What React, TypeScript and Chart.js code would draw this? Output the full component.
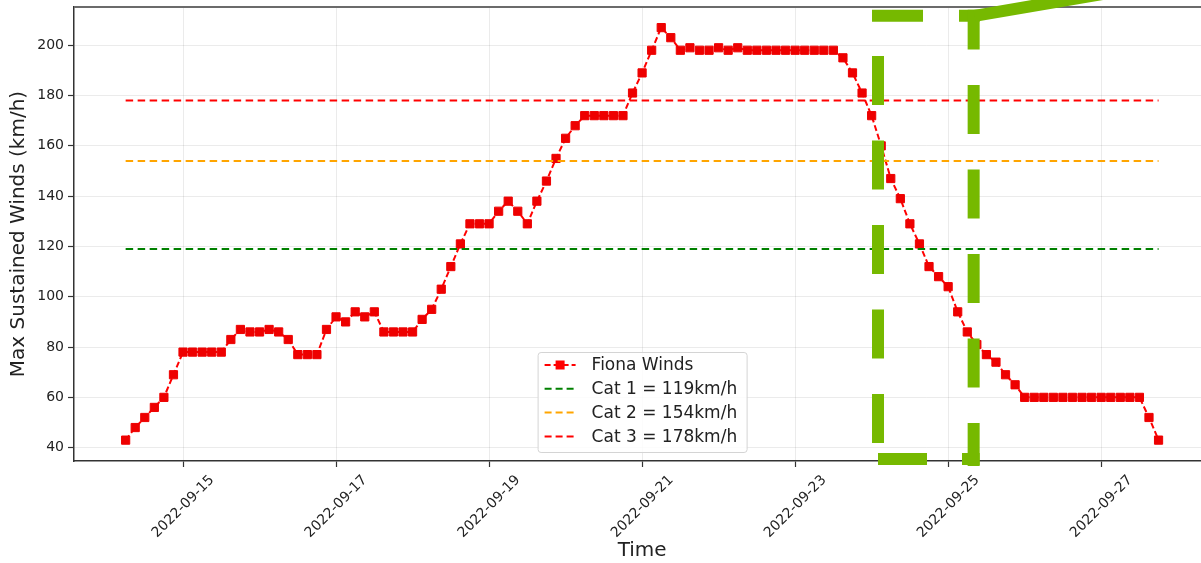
import React, { useEffect, useRef } from "react";
import { Chart, registerables } from "chart.js";

Chart.register(...registerables);

// Hours elapsed since 2022-09-14 00:00 for each advisory
const hoursSinceSep14: number[] = [
  6, 9, 12, 15, 18, 21, 24, 27, 30, 33, 36, 39, 42, 45, 48, 51, 54, 57, 60, 63,
  66, 69, 72, 75, 78, 81, 84, 87, 90, 93, 96, 99, 102, 105, 108, 111, 114, 117, 120, 123,
  126, 129, 132, 135, 138, 141, 144, 147, 150, 153, 156, 159, 162, 165, 168, 171, 174, 177, 180, 183,
  186, 189, 192, 195, 198, 201, 204, 207, 210, 213, 216, 219, 222, 225, 228, 231, 234, 237, 240, 243,
  246, 249, 252, 255, 258, 261, 264, 267, 270, 273, 276, 279, 282, 285, 288, 291, 294, 297, 300, 303,
  306, 309, 312, 315, 318, 321, 324, 327, 330,
];

// Max sustained winds (km/h)
const fionaWinds: number[] = [
  43, 48, 52, 56, 60, 69, 78, 78, 78, 78, 78, 83, 87, 86, 86, 87, 86, 83, 77, 77,
  77, 87, 92, 90, 94, 92, 94, 86, 86, 86, 86, 91, 95, 103, 112, 121, 129, 129, 129, 134,
  138, 134, 129, 138, 146, 155, 163, 168, 172, 172, 172, 172, 172, 181, 189, 198, 207, 203, 198, 199,
  198, 198, 199, 198, 199, 198, 198, 198, 198, 198, 198, 198, 198, 198, 198, 195, 189, 181, 172, 160,
  147, 139, 129, 121, 112, 108, 104, 94, 86, 81, 77, 74, 69, 65, 60, 60, 60, 60, 60, 60,
  60, 60, 60, 60, 60, 60, 60, 52, 43,
];

const seriesLabel = "Fiona Winds";
const catLabels: string[] = ["Cat 1 = 119km/h", "Cat 2 = 154km/h", "Cat 3 = 178km/h"];
const catValues: number[] = [119, 154, 178];
const catColors: string[] = ["#008000", "#FFA500", "#FF0000"];

const xTickHours: number[] = [24, 72, 120, 168, 216, 264, 312];
const xTickLabels: string[] = [
  "2022-09-15", "2022-09-17", "2022-09-19", "2022-09-21", "2022-09-23", "2022-09-25", "2022-09-27",
];
const yTickValues: number[] = [40, 60, 80, 100, 120, 140, 160, 180, 200];

// Highlight box annotation (data units: hours, km/h)
const highlightBox = { hourLeft: 242, hourRight: 272, windTop: 211.7, windBottom: 35.5 };

const FONT = "'DejaVu Sans', sans-serif";

const topSpinePlugin = {
  id: "topSpine",
  afterDraw(chart: any) {
    const { ctx, chartArea } = chart;
    ctx.save();
    ctx.strokeStyle = "#6b6b6b";
    ctx.lineWidth = 2;
    ctx.beginPath();
    ctx.moveTo(chartArea.left, chartArea.top);
    ctx.lineTo(chartArea.right, chartArea.top);
    ctx.stroke();
    ctx.restore();
  },
};

const legendPlugin = {
  id: "mplLegend",
  afterDraw(chart: any) {
    const { ctx, chartArea } = chart;
    const w = 209;
    const h = 100;
    const cx = (chartArea.left + chartArea.right) / 2;
    const x0 = cx - w / 2;
    const y0 = chartArea.bottom - 9 - h;
    ctx.save();
    ctx.fillStyle = "rgba(255,255,255,0.85)";
    ctx.strokeStyle = "#d4d4d4";
    ctx.lineWidth = 1;
    ctx.beginPath();
    (ctx as any).roundRect(x0 + 0.5, y0 + 0.5, w, h, 3);
    ctx.fill();
    ctx.stroke();

    const entries = [
      { label: seriesLabel, color: "#FF0000", marker: true, dash: [6, 3] },
      ...catLabels.map((l, i) => ({ label: l, color: catColors[i], marker: false, dash: [7, 4] })),
    ];
    ctx.font = `17px ${FONT}`;
    ctx.textBaseline = "middle";
    entries.forEach((e, k) => {
      const y = y0 + 13 + k * 23.8;
      ctx.strokeStyle = e.color;
      ctx.lineWidth = 2;
      ctx.setLineDash(e.dash);
      ctx.beginPath();
      ctx.moveTo(x0 + 7, y);
      ctx.lineTo(x0 + 38, y);
      ctx.stroke();
      ctx.setLineDash([]);
      if (e.marker) {
        ctx.fillStyle = e.color;
        ctx.fillRect(x0 + 22.5 - 4.5, y - 4.5, 9, 9);
      }
      ctx.fillStyle = "#222";
      ctx.fillText(e.label, x0 + 54, y + 1);
    });
    ctx.restore();
  },
};

const highlightPlugin = {
  id: "highlight",
  afterDraw(chart: any) {
    const { ctx } = chart;
    const xs = chart.scales.x;
    const ys = chart.scales.y;
    const xl = xs.getPixelForValue(highlightBox.hourLeft);
    const xr = xs.getPixelForValue(highlightBox.hourRight);
    const yt = ys.getPixelForValue(highlightBox.windTop);
    const yb = ys.getPixelForValue(highlightBox.windBottom);
    ctx.save();
    ctx.strokeStyle = "#76B900";
    ctx.lineWidth = 12;
    ctx.lineCap = "butt";
    const seg = (ax: number, ay: number, bx: number, by: number, dash: number[]) => {
      ctx.setLineDash(dash);
      ctx.beginPath();
      ctx.moveTo(ax, ay);
      ctx.lineTo(bx, by);
      ctx.stroke();
    };
    // left side (bottom to top)
    seg(xl, yb - 16, xl, yt + 6, [49, 35.5]);
    // top side
    seg(xl - 6, yt, xr + 6, yt, [51, 36, 500]);
    // right side (bottom to top)
    seg(xr, yb + 7, xr, yt - 6, [43, 35.5, 49, 35.5, 49, 35.5, 49, 35.5, 49, 35.5, 200]);
    // bottom side
    seg(xl, yb, xr + 6, yb, [49, 35, 300]);
    // connector line
    seg(xr + 1, yt, xr + 400, yt - 68, []);
    ctx.restore();
  },
};

export default function App() {
  const canvasRef = useRef<HTMLCanvasElement | null>(null);

  useEffect(() => {
    document.body.style.margin = "0";
    const canvas = canvasRef.current;
    if (!canvas) return;

    const fionaData = hoursSinceSep14.map((h, i) => ({ x: h, y: fionaWinds[i] }));
    const firstHour = hoursSinceSep14[0];
    const lastHour = hoursSinceSep14[hoursSinceSep14.length - 1];

    const catDatasets = catValues.map((v, i) => ({
      label: catLabels[i],
      data: [
        { x: firstHour, y: v },
        { x: lastHour, y: v },
      ],
      borderColor: catColors[i],
      backgroundColor: catColors[i],
      borderWidth: 2,
      borderDash: [7.5, 4.5],
      pointRadius: 0,
      fill: false,
      order: 0,
    }));

    const chart = new Chart(canvas, {
      type: "line",
      data: {
        datasets: [
          {
            label: seriesLabel,
            data: fionaData,
            borderColor: "#FF0000",
            backgroundColor: "#FF0000",
            borderWidth: 2,
            borderDash: [6, 3],
            pointStyle: "rect",
            pointRadius: 5.8,
            pointBackgroundColor: "#EE0000",
            pointBorderColor: "#EE0000",
            pointBorderWidth: 1,
            fill: false,
            order: 1,
          },
          ...catDatasets,
        ] as any,
      },
      options: {
        animation: false,
        responsive: true,
        maintainAspectRatio: false,
        layout: { padding: { top: 7, left: 0, right: 0, bottom: 0 } },
        plugins: {
          legend: { display: false },
          tooltip: { enabled: false },
        },
        scales: {
          x: {
            type: "linear",
            min: -10.2,
            max: 346.2,
            afterBuildTicks: (scale: any) => {
              scale.ticks = xTickHours.map((v) => ({ value: v }));
            },
            afterFit: (scale: any) => {
              scale.height = 102;
              scale.paddingLeft = 0;
              scale.paddingRight = 0;
              scale.paddingTop = 0;
              scale.paddingBottom = 0;
            },
            ticks: {
              autoSkip: false,
              minRotation: 45,
              maxRotation: 45,
              labelOffset: 29,
              padding: 5,
              color: "#222",
              font: { family: FONT, size: 14 },
              callback: (_v: any, index: number) => xTickLabels[index] ?? "",
            },
            grid: {
              color: "rgba(0,0,0,0.08)",
              lineWidth: 1,
              tickColor: "#333",
              tickLength: 6,
              tickWidth: 1.2,
            },
            border: { display: true, color: "#333", width: 1.5 },
            title: {
              display: true,
              text: "Time",
              color: "#222",
              font: { family: FONT, size: 20 },
              padding: { top: 0, bottom: 0 },
            },
          },
          y: {
            type: "linear",
            min: 34.7,
            max: 215.2,
            afterBuildTicks: (scale: any) => {
              scale.ticks = yTickValues.map((v) => ({ value: v }));
            },
            afterFit: (scale: any) => {
              scale.width = 74;
              scale.paddingLeft = 0;
              scale.paddingRight = 0;
              scale.paddingTop = 0;
              scale.paddingBottom = 0;
            },
            ticks: {
              padding: 4,
              color: "#222",
              font: { family: FONT, size: 14 },
              callback: (v: any) => String(v),
            },
            grid: {
              color: "rgba(0,0,0,0.08)",
              lineWidth: 1,
              tickColor: "#333",
              tickLength: 6,
              tickWidth: 1.2,
            },
            border: { display: true, color: "#333", width: 1.5 },
            title: {
              display: true,
              text: "Max Sustained Winds (km/h)",
              color: "#222",
              font: { family: FONT, size: 20 },
              padding: { top: 7, bottom: 0 },
            },
          },
        },
      } as any,
      plugins: [topSpinePlugin, legendPlugin, highlightPlugin],
    });

    return () => {
      chart.destroy();
    };
  }, []);

  return (
    <div style={{ width: 1201, height: 563, overflow: "hidden", position: "relative", background: "#fff" }}>
      <div style={{ width: 1217, height: 563, position: "absolute", left: 0, top: 0 }}>
        <canvas ref={canvasRef} />
      </div>
    </div>
  );
}
